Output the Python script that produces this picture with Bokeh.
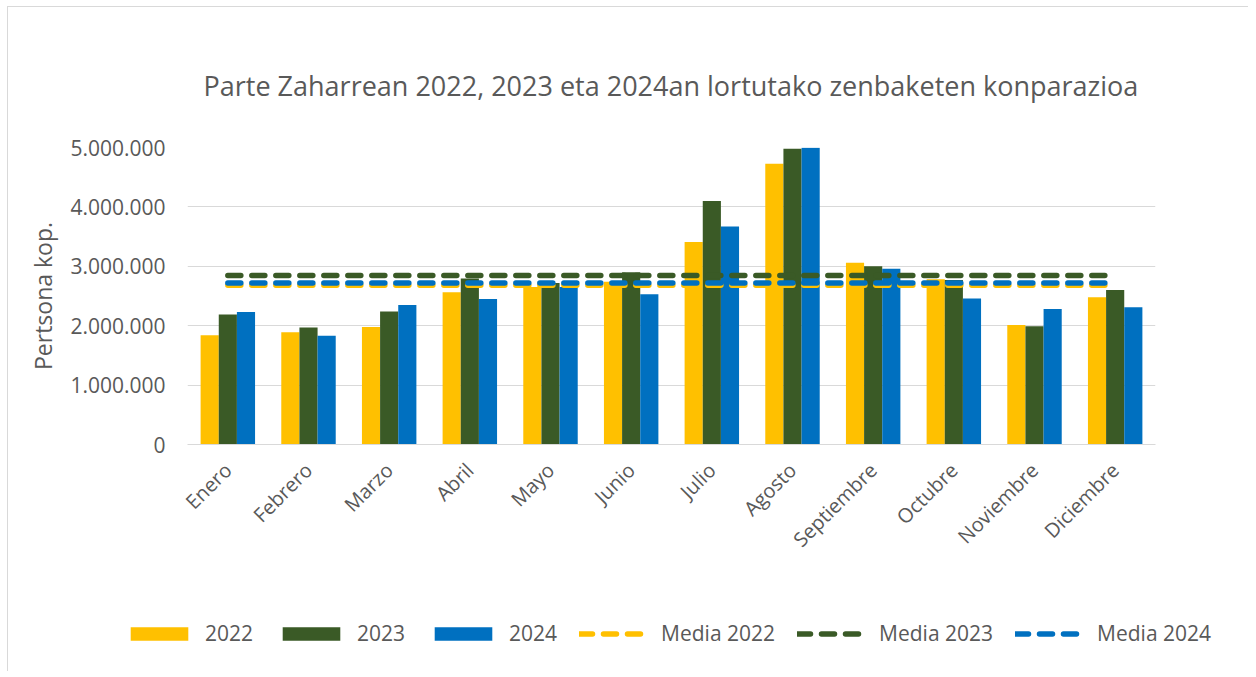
import math
from bokeh.plotting import figure
from bokeh.layouts import column
from bokeh.models import (ColumnDataSource, FactorRange, Range1d, Legend, LegendItem,
                          CustomJSTickFormatter, FixedTicker, Title)
from bokeh.transform import dodge
from bokeh.embed import file_html
from bokeh.resources import INLINE

months = ["Enero", "Febrero", "Marzo", "Abril", "Mayo", "Junio", "Julio",
          "Agosto", "Septiembre", "Octubre", "Noviembre", "Diciembre"]
v2022 = [1840000, 1890000, 1980000, 2565000, 2650000, 2740000, 3410000,
         4725000, 3060000, 2780000, 2010000, 2480000]
v2023 = [2190000, 1970000, 2240000, 2795000, 2720000, 2900000, 4100000,
         4980000, 3000000, 2770000, 1990000, 2600000]
v2024 = [2230000, 1830000, 2350000, 2450000, 2650000, 2530000, 3670000,
         4995000, 2960000, 2460000, 2280000, 2310000]
media_2022 = [2680000, 2680000]
media_2023 = [2845000, 2845000]
media_2024 = [2720000, 2720000]
media_x = [months[0], months[-1]]
y_ticks = [0, 1000000, 2000000, 3000000, 4000000, 5000000]
series_labels = ["2022", "2023", "2024", "Media 2022", "Media 2023", "Media 2024"]

C22, C23, C24 = "#FFC000", "#3A5A26", "#0070C0"
FONT = "Open Sans"
TXT = "#595959"

src = ColumnDataSource(dict(m=months, a=v2022, b=v2023, c=v2024))

p = figure(width=1240, height=608, x_range=FactorRange(*months),
           y_range=Range1d(0, 5000000), output_backend="svg",
           toolbar_location=None, min_border_left=179, min_border_right=93,
           min_border_top=140, min_border_bottom=171)
p.frame_align = False
p.outline_line_color = None
p.background_fill_color = "white"
p.border_fill_color = "white"

w = 0.225
p.vbar(x=dodge("m", -w, range=p.x_range), top="a", width=w, source=src,
       fill_color=C22, line_color=None)
p.vbar(x=dodge("m", 0, range=p.x_range), top="b", width=w, source=src,
       fill_color=C23, line_color=None)
p.vbar(x=dodge("m", w, range=p.x_range), top="c", width=w, source=src,
       fill_color=C24, line_color=None)

lw = 5.5
DASH = "13 11"
p.line(media_x, media_2022, line_color=C22, line_width=lw, line_dash=DASH, line_cap="round")
p.line(media_x, media_2023, line_color=C23, line_width=lw, line_dash=DASH, line_cap="round")
p.line(media_x, media_2024, line_color=C24, line_width=lw, line_dash=DASH, line_cap="round")

# axes
p.yaxis.ticker = FixedTicker(ticks=y_ticks)
p.yaxis.formatter = CustomJSTickFormatter(
    code='return Math.round(tick).toString().replace(/\\B(?=(\\d{3})+(?!\\d))/g, ".");')
p.yaxis.axis_line_color = None
p.yaxis.major_tick_line_color = None
p.yaxis.minor_tick_line_color = None
p.yaxis.major_label_standoff = 16
p.yaxis.major_label_text_font = FONT
p.yaxis.major_label_text_font_size = "21px"
p.yaxis.major_label_text_color = TXT
p.yaxis.axis_label = "Pertsona kop."
p.yaxis.axis_label_text_font = FONT
p.yaxis.axis_label_text_font_size = "23px"
p.yaxis.axis_label_text_font_style = "normal"
p.yaxis.axis_label_text_color = TXT
p.yaxis.axis_label_standoff = 8

p.xaxis.axis_line_color = "#D9D9D9"
p.xaxis.axis_line_width = 1
p.xaxis.major_tick_line_color = None
p.xaxis.minor_tick_line_color = None
p.xaxis.major_label_orientation = math.pi / 4
p.xaxis.major_label_standoff = 16
p.xaxis.major_label_text_font = FONT
p.xaxis.major_label_text_font_size = "20px"
p.xaxis.major_label_text_color = TXT

p.xgrid.grid_line_color = None
p.ygrid.grid_line_color = "#D9D9D9"
p.ygrid.grid_line_width = 1

t = Title(text="Parte Zaharrean 2022, 2023 eta 2024an lortutako zenbaketen konparazioa",
          align="left", offset=16, text_font=FONT, text_font_size="27px",
          text_font_style="normal", text_color=TXT, standoff=87)
p.add_layout(t, "above")

# legend strip (its own small figure, so the legend is not clipped by the chart frame)
lg = figure(width=1240, height=56, x_range=Range1d(0, 1), y_range=Range1d(0, 1),
            output_backend="svg", toolbar_location=None,
            x_axis_location=None, y_axis_location=None,
            min_border_left=0, min_border_right=0, min_border_top=0, min_border_bottom=0)
lg.frame_align = False
lg.outline_line_color = None
lg.grid.visible = False
# invisible proxies (zero-size, outside the strip's range) that only supply legend swatches
g1 = lg.vbar(x=[-5], top=[-5], bottom=[-5], width=0, fill_color=C22, line_color=None)
g2 = lg.vbar(x=[-5], top=[-5], bottom=[-5], width=0, fill_color=C23, line_color=None)
g3 = lg.vbar(x=[-5], top=[-5], bottom=[-5], width=0, fill_color=C24, line_color=None)
h1 = lg.line(x=[-5, -4], y=[-5, -5], line_color=C22, line_width=lw, line_dash=DASH, line_cap="round")
h2 = lg.line(x=[-5, -4], y=[-5, -5], line_color=C23, line_width=lw, line_dash=DASH, line_cap="round")
h3 = lg.line(x=[-5, -4], y=[-5, -5], line_color=C24, line_width=lw, line_dash=DASH, line_cap="round")

legend = Legend(items=[LegendItem(label=lab, renderers=[r]) for lab, r in
                       zip(series_labels, [g1, g2, g3, h1, h2, h3])],
                orientation="horizontal", location=(115, 24))
legend.glyph_width = 72
legend.glyph_height = 17
legend.label_standoff = 10
legend.spacing = 22
legend.padding = 0
legend.margin = 0
legend.border_line_color = None
legend.background_fill_alpha = 0
legend.label_text_font = FONT
legend.label_text_font_size = "21px"
legend.label_text_color = TXT
lg.add_layout(legend, "center")

layout = column(p, lg, styles={"border-left": "1px solid #D9D9D9",
                               "border-top": "1px solid #D9D9D9",
                               "margin-left": "7px", "margin-top": "6px"})

open("out.html", "w").write(file_html(layout, INLINE))
